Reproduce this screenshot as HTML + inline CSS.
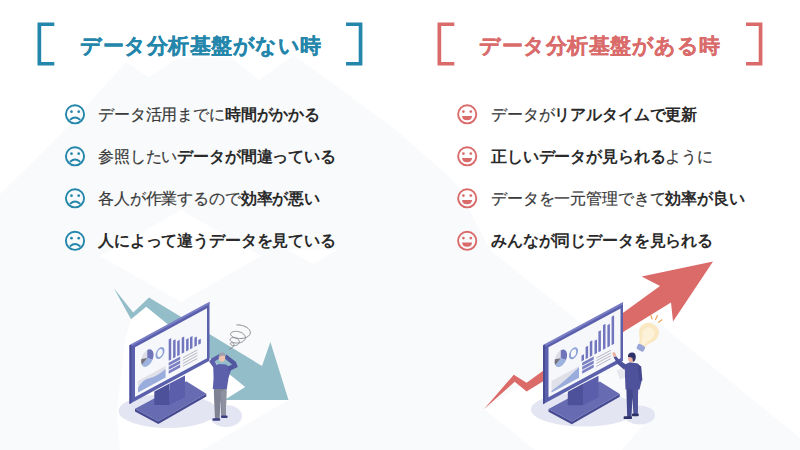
<!DOCTYPE html>
<html><head><meta charset="utf-8">
<style>
html,body{margin:0;padding:0;}
body{width:800px;height:450px;overflow:hidden;position:relative;background:#fff;font-family:"Liberation Sans",sans-serif;}
#bg{position:absolute;left:0;top:0;}
.br{position:absolute;top:22.3px;width:12.8px;height:35.6px;border:3.8px solid;}
.bl{border-right:none;}
.brr{border-left:none;}
.t{position:absolute;top:31px;font-size:21px;letter-spacing:0.5px;-webkit-text-stroke:0.25px;font-weight:bold;white-space:nowrap;line-height:30px;}
.li{position:absolute;font-size:16px;letter-spacing:-0.15px;margin-top:1px;color:#3a3a3a;-webkit-text-stroke:0.2px;white-space:nowrap;line-height:20px;}
.li b{color:#2a2a2a;-webkit-text-stroke:0;}
.ic{position:absolute;width:22px;height:22px;}
</style></head><body>
<svg id="bg" width="800" height="450" viewBox="0 0 800 450">
<rect width="800" height="450" fill="#fff"/>
<g fill="#f9fafc">
<polygon points="0,194 60,135 126,62 149,77.5 177,58.5 230,57 259,80 294,55 396,130 455,182 490,250 582,324 620,335 655,320 800,438 800,450 0,450"/>
</g>
<polygon points="181,210 261,256 181,302 100,256" fill="#fff"/><polygon points="288,250 338,250 313,264" fill="#fff"/>
<polygon points="484,409 543,372 650,417 622,450 535,450" fill="#fff"/>
<polygon points="131,319 146.2,306.7 245.2,387 224.4,400 288.5,400 202,450 120,450 117,411 125,340" fill="#fff"/>
<ellipse cx="168" cy="411" rx="49.5" ry="17" fill="#e4e5f2"/><ellipse cx="226" cy="416" rx="16" ry="11" fill="#e4e5f2"/>
<polygon points="114,288.4 133.2,312.5 149,297.6 262,366 270.4,342 288.5,400 224.4,400 245.2,387 146.2,306.7 131,319.3" fill="#93bdc8"/>
<polygon points="135.0,408.7 158.3,421.3 206.3,393.7 206.3,396.5 158.3,424.1 135.0,411.5" fill="#464a90"/>
<polygon points="135.0,408.7 186.3,381.3 206.3,393.7 158.3,421.3" fill="#676bb2"/>
<polygon points="154.3,391.5 169.5,383.5 169.5,405.0 154.3,405.0" fill="#4d5199"/>
<polygon points="169.5,383.5 185.0,375.5 185.0,397.0 169.5,405.0" fill="#5a5eab"/>
<g transform="matrix(1,-0.54,0,1,129.5,345.5)">
<rect x="0" y="0" width="80" height="58.5" fill="#5b60ad"/>
<rect x="0" y="-0.6" width="80" height="2.4" fill="#7a7ec4"/>
<rect x="0" y="0" width="2" height="58.5" fill="#484c94"/>
<rect x="5.5" y="4.6" width="72" height="49.9" fill="#f6f7fa"/>
<g transform="translate(17.8,22.2) scale(1,1.3)"><circle r="6.2" fill="#dcdde6"/><path d="M0 0 L0 -6.2 A6.2 6.2 0 0 1 5.2 3.4Z" fill="#7075ba"/><path d="M0 0 L5.2 3.4 A6.2 6.2 0 0 1 -5.5 2.9Z" fill="#9db3df"/><path d="M0 0 L-5.5 2.9 A6.2 6.2 0 0 1 -5.9 -1.8Z" fill="#74747f"/></g>
<ellipse cx="30.5" cy="24" rx="3.6" ry="4.6" fill="none" stroke="#8aa0d6" stroke-width="1.8"/>
<rect x="8.5" y="40" width="27.5" height="11.5" fill="#dfe0e8"/>
<path d="M8.5 51.5 L8.5 47 Q13 41 20 43.5 Q28 46 36 43 L36 51.5Z" fill="#9aacdc"/>
<rect x="39.2" y="15.1" width="2.5" height="21.4" fill="#7176bf"/>
<rect x="43.6" y="18.6" width="2.5" height="17.9" fill="#7176bf"/>
<rect x="47.7" y="21.4" width="2.5" height="15.100000000000001" fill="#7176bf"/>
<rect x="52.2" y="20.5" width="2.5" height="16.0" fill="#7176bf"/>
<rect x="56.6" y="24.5" width="2.5" height="12.0" fill="#7176bf"/>
<rect x="60.5" y="24.4" width="2.5" height="12.100000000000001" fill="#7176bf"/>
<rect x="64.9" y="27.3" width="2.5" height="9.2" fill="#7176bf"/>
<rect x="68.8" y="31.7" width="2.5" height="4.800000000000001" fill="#7176bf"/>
<rect x="39.2" y="38.3" width="11.5" height="3" fill="#7a7fc4"/>
<rect x="39.2" y="42.3" width="11.5" height="3" fill="#7a7fc4"/>
<rect x="39.2" y="46.3" width="11.5" height="3" fill="#7a7fc4"/>
<rect x="53.3" y="40.6" width="14.5" height="1" fill="#b4b5c0"/>
<rect x="53.3" y="43.4" width="14.5" height="1" fill="#b4b5c0"/>
<rect x="53.3" y="46.2" width="14.5" height="1" fill="#b4b5c0"/>
<rect x="53.3" y="49.0" width="14.5" height="1" fill="#b4b5c0"/>
</g>
<g fill="none" stroke="#8a8a90" stroke-width="1" stroke-linejoin="round"><path d="M236.4 325.0 L237.6 324.9 L238.8 324.9 L240.1 325.1 L241.3 325.3 L242.6 325.6 L243.8 326.0 L245.0 326.5 L246.1 327.1 L247.2 327.7 L248.1 328.4 L248.8 329.1 L249.4 329.9 L249.9 330.7 L250.2 331.5 L250.3 332.3 L250.3 333.2 L250.1 333.9 L249.7 334.7 L249.2 335.4 L248.5 336.1 L247.7 336.6 L246.7 337.2 L245.7 337.6 L244.5 338.0 L243.3 338.2 L242.1 338.4 L240.8 338.5 L239.5 338.5 L238.2 338.4 L237.0 338.2 L235.8 338.0 L234.8 337.7 L233.8 337.3 L232.9 336.9 L232.2 336.4 L231.5 335.9 L231.1 335.4 L230.8 334.8 L230.6 334.3 L230.6 333.8 L230.8 333.3 L231.1 332.8 L231.6 332.4 L232.2 332.1 L232.9 331.8 L233.7 331.6 L234.6 331.4 L235.6 331.4 L236.6 331.4 L237.6 331.5 L238.7 331.7 L239.7 332.0 L240.7 332.3 L241.6 332.7 L242.5 333.2 L243.2 333.8 L243.9 334.4 L244.5 335.0 L244.9 335.7 L245.2 336.4 L245.4 337.1 L245.4 337.8 L245.3 338.5 L245.1 339.2 L244.7 339.8 L244.2 340.4 L243.6 341.0 L242.9 341.5 L242.2 341.9 L241.3 342.3 L240.4 342.6 L239.4 342.8 L238.5 343.0 L237.5 343.0 L236.5 343.0 L235.5 343.0 L234.6 342.8 L233.8 342.6 L233.0 342.4 L232.3 342.1 L231.7 341.8 L231.1 341.4 L230.7 341.0 L230.4 340.6 L230.2 340.2 L230.1 339.8 L230.1 339.4 L230.2 339.0 L230.5 338.7 L230.8 338.4 L231.2 338.1 L231.6 337.9 L232.1 337.7 L232.7 337.6 L233.3 337.6 L234.0 337.6 L234.6 337.7 L235.3 337.8 L235.9 338.0 L236.5 338.2 L237.1 338.5 L237.6 338.9 L238.1 339.3 L238.5 339.7 L238.8 340.2 L239.0 340.7 L239.2 341.1 L239.3 341.6 L239.2 342.1 L239.2 342.6 L239.0 343.1 L238.7 343.5 L238.4 343.9 L238.0 344.3 L237.6 344.7 L237.1 345.0 L236.6 345.2 L236.0 345.4 L235.5 345.6 L234.9 345.7 L234.3 345.7 L233.8 345.7 L233.2 345.7 L232.7 345.6 L232.2 345.5 L231.8 345.3 L231.4 345.1 L231.1 344.9 L230.8 344.7 L230.6 344.5 L230.5 344.2 L230.4 344.0 L230.3 343.8 L230.4 343.5 L230.4 343.3 L230.6 343.2 L230.7 343.0 L230.9 342.9 L231.2 342.8 L231.4 342.7 L231.7 342.7 L232.0 342.7 L232.3 342.7 L232.5 342.8 L232.8 343.0 L233.1 343.1 L233.3 343.3 L233.5 343.5 L233.7 343.8 L233.8 344.0 L233.9 344.3 L234.0 344.5 L234.0 344.8 L234.0 345.1 L234.0 345.4 L233.9 345.6 L233.8 345.9 L233.7 346.1 L233.5 346.4 L233.4 346.6 L229.0 349.5"/></g>
<polygon points="213.8,388 226.5,388 226.2,402 225.6,416.5 221.3,416.5 220.6,400 219.6,419 215,419 214.2,402" fill="#7f8293"/>
<polygon points="220.6,392 226.5,388 226.2,402 225.6,416.5 222.5,416.5" fill="#8e91a0"/>
<rect x="212.4" y="418.2" width="7.8" height="2.6" rx="1" fill="#3d4080"/>
<rect x="221" y="415.6" width="6.6" height="2.4" rx="1" fill="#3d4080"/>
<polygon points="213.2,366.5 218.5,364 226,364.6 231.5,368.5 228.5,378 226.8,389 212.8,389 213.6,378" fill="#5c60ab"/>
<polygon points="214.5,369 209.2,361.8 211.4,358.6 219.6,353.8 221.4,357.2 214.6,361.6 217.8,366.5" fill="#5c60ab"/>
<polygon points="228.5,371.5 237.8,367 236,362 226.4,354.6 224.2,358 232,364.4 227.8,366.5" fill="#5258a0"/>
<ellipse cx="222" cy="357.8" rx="3.2" ry="4" fill="#f0c3b0"/>
<path d="M218.8 357 Q218.6 352.8 222.2 352.6 Q225.6 352.8 225.4 356 Q223 354.6 220.4 356.6Z" fill="#9d9fb0"/>
<ellipse cx="584" cy="409.5" rx="53" ry="17" fill="#e4e5f2"/><ellipse cx="639.5" cy="415" rx="15.5" ry="9.5" fill="#e4e5f2"/>
<polygon points="483.9,409.3 513.8,374.7 526.6,382.7 660,286 641.6,276.4 713,261.6 673,321.6 671,302.4 526.6,391.6 514.7,381.8" fill="#db6b69"/>
<polygon points="548.5,408.9 571.8,421.5 619.8,393.9 619.8,396.7 571.8,424.3 548.5,411.7" fill="#464a90"/>
<polygon points="548.5,408.9 599.8,381.5 619.8,393.9 571.8,421.5" fill="#676bb2"/>
<polygon points="567.8,391.7 583,383.7 583,405.2 567.8,405.2" fill="#4d5199"/>
<polygon points="583,383.7 598.5,375.7 598.5,397.2 583,405.2" fill="#5a5eab"/>
<g transform="matrix(1,-0.54,0,1,543,345.7)">
<rect x="0" y="0" width="80" height="58.5" fill="#5b60ad"/>
<rect x="0" y="-0.6" width="80" height="2.4" fill="#7a7ec4"/>
<rect x="0" y="0" width="2" height="58.5" fill="#484c94"/>
<rect x="5.5" y="4.6" width="72" height="49.9" fill="#f6f7fa"/>
<g transform="translate(17.8,22.2) scale(1,1.3)"><circle r="6.2" fill="#dcdde6"/><path d="M0 0 L0 -6.2 A6.2 6.2 0 0 1 5.2 3.4Z" fill="#7075ba"/><path d="M0 0 L5.2 3.4 A6.2 6.2 0 0 1 -5.5 2.9Z" fill="#9db3df"/><path d="M0 0 L-5.5 2.9 A6.2 6.2 0 0 1 -5.9 -1.8Z" fill="#74747f"/></g>
<ellipse cx="30.5" cy="24" rx="3.6" ry="4.6" fill="none" stroke="#8aa0d6" stroke-width="1.8"/>
<rect x="8.5" y="40" width="27.5" height="11.5" fill="#dfe0e8"/>
<path d="M8.5 51.5 L8.5 50 Q18 48 26 45 Q31 43 36 41 L36 51.5Z" fill="#9aacdc"/>
<rect x="38.5" y="30.7" width="2.5" height="5.800000000000001" fill="#7176bf"/>
<rect x="42.6" y="24.3" width="2.5" height="12.2" fill="#7176bf"/>
<rect x="46.8" y="21.2" width="2.5" height="15.3" fill="#7176bf"/>
<rect x="51.5" y="22.9" width="2.5" height="13.600000000000001" fill="#7176bf"/>
<rect x="55.4" y="15.7" width="2.5" height="20.8" fill="#7176bf"/>
<rect x="60" y="11.9" width="2.5" height="24.6" fill="#7176bf"/>
<rect x="64.4" y="14.3" width="2.5" height="22.2" fill="#7176bf"/>
<rect x="68.6" y="8" width="2.5" height="28.5" fill="#7176bf"/>
<rect x="39.2" y="38.3" width="11.5" height="3" fill="#7a7fc4"/>
<rect x="39.2" y="42.3" width="11.5" height="3" fill="#7a7fc4"/>
<rect x="39.2" y="46.3" width="11.5" height="3" fill="#7a7fc4"/>
<rect x="53.3" y="40.6" width="14.5" height="1" fill="#b4b5c0"/>
<rect x="53.3" y="43.4" width="14.5" height="1" fill="#b4b5c0"/>
<rect x="53.3" y="46.2" width="14.5" height="1" fill="#b4b5c0"/>
<rect x="53.3" y="49.0" width="14.5" height="1" fill="#b4b5c0"/>
</g>
<g transform="translate(-1.2,1.6) rotate(28 648 335) translate(648 335) scale(1.08) translate(-648 -335)"><path d="M648 322 C655 322 658 327 657 333 C656 337 652 339 651.5 344 L644.5 344 C644 339 640 337 639 333 C638 327 641 322 648 322Z" fill="#f9e8c2"/><path d="M648 326 C652.5 326 654 330 653 334 C652 337 650 339 650 343 L646 343 C646 339 644 337 643 334 C642 330 643.5 326 648 326Z" fill="#fcf2da"/><rect x="644.3" y="344" width="7.4" height="5.4" rx="1.6" fill="#9ba6d8"/></g>
<g stroke="#eba55c" stroke-width="1.2" stroke-linecap="round"><path d="M651 315.5 L652 319"/><path d="M657.5 315.5 L655.5 319.5"/><path d="M662 319.8 L658.6 322.2"/></g>
<polygon points="626.3,386 638.2,386 637.6,414.5 633.5,414.5 632.5,398 631.4,417.5 627.2,417.5" fill="#44488c"/>
<polygon points="632.5,390 638.2,386 637.6,414.5 634.2,414.5" fill="#50549a"/>
<rect x="623.6" y="416.3" width="8.4" height="2.8" rx="1.2" fill="#2f3268"/>
<rect x="631.8" y="413.6" width="7" height="2.6" rx="1.2" fill="#2f3268"/>
<polygon points="616.5,370.5 622.5,368.2 626,377.2 620,379.6" fill="#e6e7ee"/>
<polygon points="624.6,364.5 630,362.2 637.8,363.4 640.5,367 641.6,381 639.5,389.5 625.5,389.5 625,376" fill="#4e529b"/>
<polygon points="626,364.5 619.5,360.2 615.6,355.5 613.4,356.8 617.2,363.8 624.4,370" fill="#4e529b"/>
<ellipse cx="614.3" cy="354.6" rx="1.6" ry="2.6" fill="#eab3a2" transform="rotate(-25 614.3 354.6)"/>
<polygon points="637.6,364 641.2,366.5 642.4,380.5 639.6,381 638.2,369" fill="#44488c"/>
<ellipse cx="631.2" cy="358.3" rx="3.1" ry="3.9" fill="#eab3a2"/>
<path d="M628 357 Q627.6 352.4 632.2 352.4 Q636 352.6 635.8 357.2 Q635.4 361.4 633 361.8 L632.4 358 Q630.2 356.8 628 357Z" fill="#2f3268"/>
<g fill="none" stroke="#2386aa" stroke-width="3.7" stroke-linejoin="miter"><path d="M54.3 24.25H39.35V63.74999999999999H54.3"/><path d="M346 24.25H360.54999999999995V63.74999999999999H346"/></g>
<g fill="none" stroke="#da6b6b" stroke-width="3.7" stroke-linejoin="miter"><path d="M454.3 24.25H439.35V63.74999999999999H454.3"/><path d="M746 24.25H760.55V63.74999999999999H746"/></g>
<g transform="translate(75,114.3)" fill="none" stroke="#2386aa"><circle r="9.1" stroke-width="1.9"/><circle cx="-3.5" cy="-2.6" r="1.35" fill="#2386aa" stroke="none"/><circle cx="3.7" cy="-2.6" r="1.35" fill="#2386aa" stroke="none"/><path d="M-4.6 5.2 Q0 1.2 4.8 5.2" stroke-width="1.8" stroke-linecap="round"/></g>
<g transform="translate(75,156.3)" fill="none" stroke="#2386aa"><circle r="9.1" stroke-width="1.9"/><circle cx="-3.5" cy="-2.6" r="1.35" fill="#2386aa" stroke="none"/><circle cx="3.7" cy="-2.6" r="1.35" fill="#2386aa" stroke="none"/><path d="M-4.6 5.2 Q0 1.2 4.8 5.2" stroke-width="1.8" stroke-linecap="round"/></g>
<g transform="translate(75,198.3)" fill="none" stroke="#2386aa"><circle r="9.1" stroke-width="1.9"/><circle cx="-3.5" cy="-2.6" r="1.35" fill="#2386aa" stroke="none"/><circle cx="3.7" cy="-2.6" r="1.35" fill="#2386aa" stroke="none"/><path d="M-4.6 5.2 Q0 1.2 4.8 5.2" stroke-width="1.8" stroke-linecap="round"/></g>
<g transform="translate(75,240.8)" fill="none" stroke="#2386aa"><circle r="9.1" stroke-width="1.9"/><circle cx="-3.5" cy="-2.6" r="1.35" fill="#2386aa" stroke="none"/><circle cx="3.7" cy="-2.6" r="1.35" fill="#2386aa" stroke="none"/><path d="M-4.6 5.2 Q0 1.2 4.8 5.2" stroke-width="1.8" stroke-linecap="round"/></g>
<g transform="translate(467.2,114.3)" fill="none" stroke="#da6b6b"><circle r="9.1" stroke-width="1.9"/><circle cx="-3.8" cy="-2.7" r="1.35" fill="#da6b6b" stroke="none"/><circle cx="3.6" cy="-2.7" r="1.35" fill="#da6b6b" stroke="none"/><path d="M-5.2 1.7 L4.9 1.7 Q4.6 5.9 -0.15 5.9 Q-4.9 5.9 -5.2 1.7Z" fill="#da6b6b" stroke="none"/></g>
<g transform="translate(467.2,156.3)" fill="none" stroke="#da6b6b"><circle r="9.1" stroke-width="1.9"/><circle cx="-3.8" cy="-2.7" r="1.35" fill="#da6b6b" stroke="none"/><circle cx="3.6" cy="-2.7" r="1.35" fill="#da6b6b" stroke="none"/><path d="M-5.2 1.7 L4.9 1.7 Q4.6 5.9 -0.15 5.9 Q-4.9 5.9 -5.2 1.7Z" fill="#da6b6b" stroke="none"/></g>
<g transform="translate(467.2,198.3)" fill="none" stroke="#da6b6b"><circle r="9.1" stroke-width="1.9"/><circle cx="-3.8" cy="-2.7" r="1.35" fill="#da6b6b" stroke="none"/><circle cx="3.6" cy="-2.7" r="1.35" fill="#da6b6b" stroke="none"/><path d="M-5.2 1.7 L4.9 1.7 Q4.6 5.9 -0.15 5.9 Q-4.9 5.9 -5.2 1.7Z" fill="#da6b6b" stroke="none"/></g>
<g transform="translate(467.2,240.8)" fill="none" stroke="#da6b6b"><circle r="9.1" stroke-width="1.9"/><circle cx="-3.8" cy="-2.7" r="1.35" fill="#da6b6b" stroke="none"/><circle cx="3.6" cy="-2.7" r="1.35" fill="#da6b6b" stroke="none"/><path d="M-5.2 1.7 L4.9 1.7 Q4.6 5.9 -0.15 5.9 Q-4.9 5.9 -5.2 1.7Z" fill="#da6b6b" stroke="none"/></g>

</svg>

<div class="t" style="left:80px;color:#2386aa">データ分析基盤がない時</div>

<div class="t" style="left:479px;color:#da6b6b">データ分析基盤がある時</div>

<div class="li" style="left:98px;top:104px">データ活用までに<b>時間がかかる</b></div>
<div class="li" style="left:98px;top:146px">参照したい<b>データが間違っている</b></div>
<div class="li" style="left:98px;top:188px">各人が作業するので<b>効率が悪い</b></div>
<div class="li" style="left:98px;top:230px"><b>人によって違うデータを見ている</b></div>

<div class="li" style="left:491px;top:104px">データが<b>リアルタイムで更新</b></div>
<div class="li" style="left:491px;top:146px"><b>正しいデータが見られる</b>ように</div>
<div class="li" style="left:491px;top:188px">データを一元管理できて<b>効率が良い</b></div>
<div class="li" style="left:491px;top:230px"><b>みんなが同じデータを見られる</b></div>

</body></html>
